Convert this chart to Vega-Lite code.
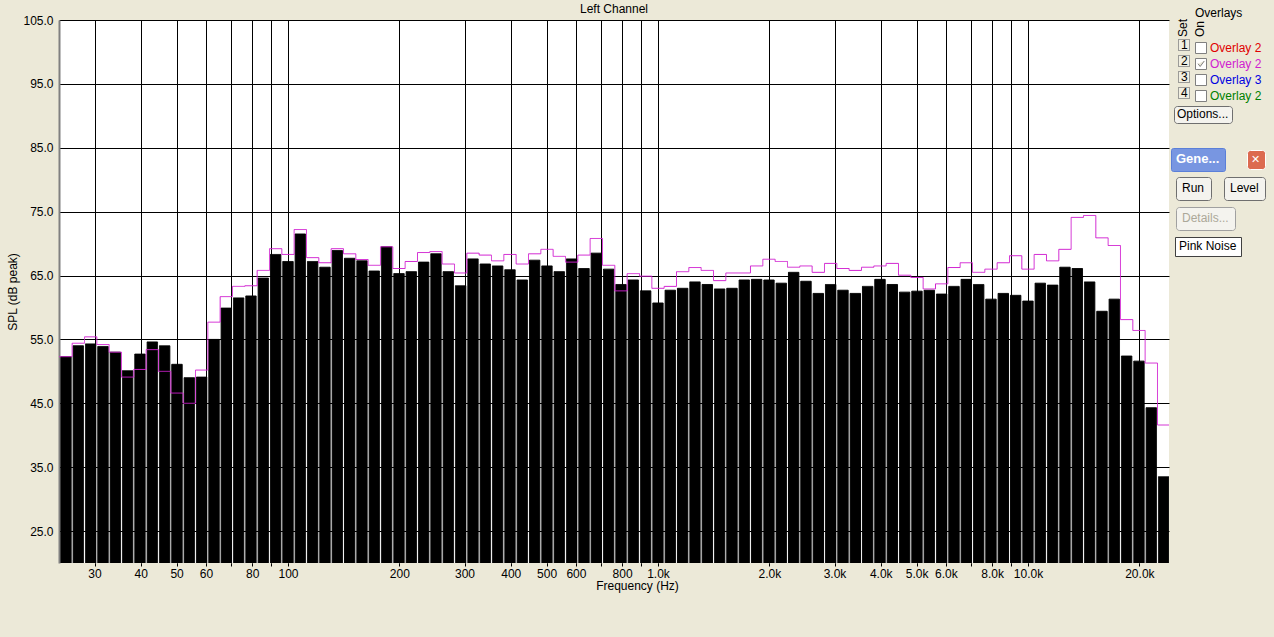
{
  "$schema": "https://vega.github.io/schema/vega-lite/v6.json",
  "width": 1110,
  "height": 543,
  "autosize": {"type": "none"},
  "padding": {"left": 59, "top": 20, "right": 105, "bottom": 74},
  "background": "#ece9d8",
  "title": {"text": "Left Channel", "fontSize": 12, "fontWeight": "normal", "font": "Liberation Sans", "color": "#000000", "offset": 3, "dy": 11, "anchor": "middle"},
  "config": {"view": {"fill": "white", "stroke": null}, "font": "Liberation Sans", "legend": {"labelFont": "Liberation Sans", "labelFontSize": 12, "labelColor": "#000000", "titleFont": "Liberation Sans", "titleFontSize": 12, "titleFontWeight": "normal", "titleColor": "#000000", "orient": "none"}},
  "datasets": {
    "bars": [
      {"freq": 25.12, "spl": 52.3}, {"freq": 27.12, "spl": 54.0}, {"freq": 29.29, "spl": 54.3}, {"freq": 31.62, "spl": 53.9},
      {"freq": 34.15, "spl": 53.0}, {"freq": 36.87, "spl": 50.1}, {"freq": 39.81, "spl": 52.7}, {"freq": 42.99, "spl": 54.6},
      {"freq": 46.42, "spl": 54.0}, {"freq": 50.12, "spl": 51.1}, {"freq": 54.12, "spl": 49.0}, {"freq": 58.43, "spl": 49.1},
      {"freq": 63.10, "spl": 55.0}, {"freq": 68.13, "spl": 59.9}, {"freq": 73.56, "spl": 61.5}, {"freq": 79.43, "spl": 61.8},
      {"freq": 85.77, "spl": 64.6}, {"freq": 92.61, "spl": 68.3}, {"freq": 100, "spl": 67.2}, {"freq": 107.98, "spl": 71.5},
      {"freq": 116.59, "spl": 67.2}, {"freq": 125.89, "spl": 66.3}, {"freq": 135.94, "spl": 68.9}, {"freq": 146.78, "spl": 67.7},
      {"freq": 158.49, "spl": 67.3}, {"freq": 171.13, "spl": 65.7}, {"freq": 184.78, "spl": 69.5}, {"freq": 199.53, "spl": 65.3},
      {"freq": 215.44, "spl": 65.6}, {"freq": 232.63, "spl": 67.1}, {"freq": 251.19, "spl": 68.4}, {"freq": 271.23, "spl": 65.6},
      {"freq": 292.86, "spl": 63.4}, {"freq": 316.23, "spl": 67.6}, {"freq": 341.45, "spl": 66.8}, {"freq": 368.69, "spl": 66.5},
      {"freq": 398.11, "spl": 65.9}, {"freq": 429.87, "spl": 64.3}, {"freq": 464.16, "spl": 67.4}, {"freq": 501.19, "spl": 66.5},
      {"freq": 541.17, "spl": 65.6}, {"freq": 584.34, "spl": 67.6}, {"freq": 630.96, "spl": 66.1}, {"freq": 681.29, "spl": 68.5},
      {"freq": 735.64, "spl": 66.0}, {"freq": 794.33, "spl": 63.6}, {"freq": 857.70, "spl": 64.3}, {"freq": 926.11, "spl": 62.6},
      {"freq": 1000, "spl": 60.7}, {"freq": 1079.8, "spl": 62.7}, {"freq": 1165.9, "spl": 63.0}, {"freq": 1258.9, "spl": 64.0},
      {"freq": 1359.4, "spl": 63.6}, {"freq": 1467.8, "spl": 62.9}, {"freq": 1584.9, "spl": 63.0}, {"freq": 1711.3, "spl": 64.3},
      {"freq": 1847.8, "spl": 64.4}, {"freq": 1995.3, "spl": 64.3}, {"freq": 2154.4, "spl": 63.8}, {"freq": 2326.3, "spl": 65.5},
      {"freq": 2511.9, "spl": 64.1}, {"freq": 2712.3, "spl": 62.2}, {"freq": 2928.6, "spl": 63.6}, {"freq": 3162.3, "spl": 62.7},
      {"freq": 3414.5, "spl": 62.2}, {"freq": 3686.9, "spl": 63.3}, {"freq": 3981.1, "spl": 64.4}, {"freq": 4298.7, "spl": 63.6},
      {"freq": 4641.6, "spl": 62.4}, {"freq": 5011.9, "spl": 62.55}, {"freq": 5411.7, "spl": 62.7}, {"freq": 5843.4, "spl": 62.1},
      {"freq": 6309.6, "spl": 63.3}, {"freq": 6812.9, "spl": 64.4}, {"freq": 7356.4, "spl": 63.6}, {"freq": 7943.3, "spl": 61.3},
      {"freq": 8577.0, "spl": 62.2}, {"freq": 9261.1, "spl": 61.9}, {"freq": 10000, "spl": 61.0}, {"freq": 10798, "spl": 63.8},
      {"freq": 11659, "spl": 63.5}, {"freq": 12589, "spl": 66.3}, {"freq": 13594, "spl": 66.1}, {"freq": 14678, "spl": 64.0},
      {"freq": 15849, "spl": 59.4}, {"freq": 17113, "spl": 61.3}, {"freq": 18478, "spl": 52.4}, {"freq": 19953, "spl": 51.6},
      {"freq": 21544, "spl": 44.3}, {"freq": 23263, "spl": 33.5}
    ],
    "overlay": [
      {"freq": 23.263, "spl": 52.3},
      {"freq": 25.12, "spl": 52.3}, {"freq": 27.12, "spl": 54.4}, {"freq": 29.29, "spl": 55.4}, {"freq": 31.62, "spl": 54.2},
      {"freq": 34.15, "spl": 53.0}, {"freq": 36.87, "spl": 49.1}, {"freq": 39.81, "spl": 50.3}, {"freq": 42.99, "spl": 53.4},
      {"freq": 46.42, "spl": 50.0}, {"freq": 50.12, "spl": 46.6}, {"freq": 54.12, "spl": 45.0}, {"freq": 58.43, "spl": 50.2},
      {"freq": 63.10, "spl": 57.7}, {"freq": 68.13, "spl": 61.7}, {"freq": 73.56, "spl": 63.3}, {"freq": 79.43, "spl": 63.4},
      {"freq": 85.77, "spl": 65.8}, {"freq": 92.61, "spl": 69.2}, {"freq": 100, "spl": 68.3}, {"freq": 107.98, "spl": 72.2},
      {"freq": 116.59, "spl": 67.8}, {"freq": 125.89, "spl": 67.0}, {"freq": 135.94, "spl": 69.2}, {"freq": 146.78, "spl": 68.4},
      {"freq": 158.49, "spl": 67.5}, {"freq": 171.13, "spl": 66.6}, {"freq": 184.78, "spl": 69.5}, {"freq": 199.53, "spl": 66.1},
      {"freq": 215.44, "spl": 67.2}, {"freq": 232.63, "spl": 68.6}, {"freq": 251.19, "spl": 68.75}, {"freq": 271.23, "spl": 66.8},
      {"freq": 292.86, "spl": 65.4}, {"freq": 316.23, "spl": 68.5}, {"freq": 341.45, "spl": 68.2}, {"freq": 368.69, "spl": 67.3},
      {"freq": 398.11, "spl": 68.3}, {"freq": 429.87, "spl": 66.8}, {"freq": 464.16, "spl": 68.4}, {"freq": 501.19, "spl": 69.1},
      {"freq": 541.17, "spl": 68.0}, {"freq": 584.34, "spl": 67.1}, {"freq": 630.96, "spl": 68.2}, {"freq": 681.29, "spl": 70.8},
      {"freq": 735.64, "spl": 66.6}, {"freq": 794.33, "spl": 62.6}, {"freq": 857.70, "spl": 65.3}, {"freq": 926.11, "spl": 64.9},
      {"freq": 1000, "spl": 63.0}, {"freq": 1079.8, "spl": 63.3}, {"freq": 1165.9, "spl": 65.6}, {"freq": 1258.9, "spl": 66.25},
      {"freq": 1359.4, "spl": 65.8}, {"freq": 1467.8, "spl": 64.2}, {"freq": 1584.9, "spl": 65.4}, {"freq": 1711.3, "spl": 65.4},
      {"freq": 1847.8, "spl": 66.5}, {"freq": 1995.3, "spl": 67.55}, {"freq": 2154.4, "spl": 67.2}, {"freq": 2326.3, "spl": 66.3},
      {"freq": 2511.9, "spl": 66.5}, {"freq": 2712.3, "spl": 65.5}, {"freq": 2928.6, "spl": 66.9}, {"freq": 3162.3, "spl": 66.1},
      {"freq": 3414.5, "spl": 65.8}, {"freq": 3686.9, "spl": 66.3}, {"freq": 3981.1, "spl": 66.5}, {"freq": 4298.7, "spl": 66.9},
      {"freq": 4641.6, "spl": 65.05}, {"freq": 5011.9, "spl": 64.7}, {"freq": 5411.7, "spl": 62.9}, {"freq": 5843.4, "spl": 63.7},
      {"freq": 6309.6, "spl": 66.25}, {"freq": 6812.9, "spl": 67.0}, {"freq": 7356.4, "spl": 65.5}, {"freq": 7943.3, "spl": 66.0},
      {"freq": 8577.0, "spl": 67.0}, {"freq": 9261.1, "spl": 68.1}, {"freq": 10000, "spl": 66.0}, {"freq": 10798, "spl": 68.3},
      {"freq": 11659, "spl": 67.3}, {"freq": 12589, "spl": 69.1}, {"freq": 13594, "spl": 74.1}, {"freq": 14678, "spl": 74.4},
      {"freq": 15849, "spl": 70.9}, {"freq": 17113, "spl": 69.7}, {"freq": 18478, "spl": 58.1}, {"freq": 19953, "spl": 56.4},
      {"freq": 21544, "spl": 51.3}, {"freq": 23263, "spl": 41.6},
      {"freq": 25119, "spl": 52.2}
    ]
  },
  "resolve": {
    "scale": {"opacity": "independent", "strokeWidth": "independent", "strokeDash": "independent"},
    "legend": {"opacity": "independent", "strokeWidth": "independent", "strokeDash": "independent"}
  },
  "layer": [
    {
      "data": {"name": "bars"},
      "mark": {"type": "bar", "size": 10.4, "clip": true, "strokeWidth": 0},
      "encoding": {
        "x": {
          "field": "freq", "type": "quantitative",
          "scale": {"type": "log", "domain": [24.05, 24050], "nice": false, "padding": 0},
          "axis": {
            "values": [30, 40, 50, 60, 70, 80, 90, 100, 200, 300, 400, 500, 600, 700, 800, 900, 1000, 2000, 3000, 4000, 5000, 6000, 7000, 8000, 9000, 10000, 20000],
            "labelExpr": "indexof([70, 90, 700, 900, 7000, 9000], datum.value) >= 0 ? '' : (datum.value >= 1000 ? format(datum.value / 1000, '.1f') + 'k' : format(datum.value, 'd'))",
            "grid": true, "gridColor": "#000000", "gridOpacity": 1, "gridWidth": 1,
            "domain": false, "ticks": true, "tickColor": "#000000", "tickSize": 3,
            "labelFont": "Liberation Sans", "labelFontSize": 12, "labelColor": "#000000", "labelPadding": 2,
            "labelFlush": false, "labelOverlap": false, "labelBound": false,
            "title": "Frequency (Hz)", "titleFont": "Liberation Sans", "titleFontSize": 12, "titleFontWeight": "normal",
            "titleColor": "#000000", "titlePadding": 1, "titleX": 578
          }
        },
        "y": {
          "field": "spl", "type": "quantitative",
          "scale": {"domain": [20, 105], "nice": false, "zero": false},
          "axis": {
            "values": [25, 35, 45, 55, 65, 75, 85, 95, 105],
            "format": ".1f",
            "grid": true, "gridColor": "#000000", "gridOpacity": 1, "gridWidth": 1,
            "domain": true, "domainColor": "#808080", "domainWidth": 2,
            "ticks": false, "tickSize": 0,
            "labelFont": "Liberation Sans", "labelFontSize": 12, "labelColor": "#000000", "labelPadding": 6,
            "labelFlush": false, "labelOverlap": false, "labelBound": false,
            "title": "SPL (dB peak)", "titleFont": "Liberation Sans", "titleFontSize": 12, "titleFontWeight": "normal",
            "titleColor": "#000000", "titlePadding": 3
          }
        },
        "fill": {
          "datum": "close", "type": "nominal",
          "scale": {"domain": ["close"], "range": ["#000000"]},
          "legend": {
            "orient": "none", "legendX": 1188, "legendY": 130, "values": [],
            "title": "✕", "titleFont": "DejaVu Sans", "titleFontSize": 11, "titleColor": "#ffffff", "titleFontWeight": "bold",
            "padding": 4, "fillColor": "#dc6a50", "strokeColor": "#ffffff", "cornerRadius": 3,
            "symbolOpacity": 0, "labelExpr": "''"
          }
        },
        "size": {
          "datum": 1, "type": "quantitative",
          "scale": {"domain": [0, 1], "range": [10.4, 10.4]},
          "legend": {
            "orient": "none", "legendX": 1117, "legendY": 157, "values": [],
            "title": "Run", "padding": 6, "fillColor": "#f4f3ee", "strokeColor": "#6f6f6f", "cornerRadius": 3,
            "symbolOpacity": 0, "labelExpr": "''"
          }
        },
        "stroke": {
          "datum": "Level", "type": "nominal",
          "scale": {"domain": ["Level"], "range": ["#000000"]},
          "legend": {
            "orient": "none", "legendX": 1165, "legendY": 157, "values": [],
            "title": "Level", "padding": 6, "fillColor": "#f4f3ee", "strokeColor": "#6f6f6f", "cornerRadius": 3,
            "symbolOpacity": 0, "labelExpr": "''"
          }
        },
        "opacity": {
          "datum": "Details...", "type": "ordinal",
          "scale": {"domain": ["Details..."], "range": [1]},
          "legend": {
            "orient": "none", "legendX": 1117, "legendY": 187, "values": [],
            "title": "Details...", "titleColor": "#aca899", "padding": 6, "fillColor": "#f4f3ee", "strokeColor": "#a0a0a0", "cornerRadius": 3,
            "symbolOpacity": 0, "labelExpr": "''"
          }
        },
        "strokeWidth": {
          "datum": "Pink Noise", "type": "ordinal",
          "scale": {"domain": ["Pink Noise"], "range": [0]},
          "legend": {
            "orient": "none", "legendX": 1116, "legendY": 217, "values": [],
            "title": "Pink Noise", "padding": 4, "fillColor": "#ffffff", "strokeColor": "#404040",
            "symbolOpacity": 0, "labelExpr": "''"
          }
        },
        "strokeDash": {
          "datum": "Gene...", "type": "nominal",
          "scale": {"domain": ["Gene..."], "range": [[1, 0]]},
          "legend": {
            "orient": "none", "legendX": 1112, "legendY": 128, "values": [],
            "title": "Gene...", "titleFontSize": 13, "titleFontWeight": "bold", "titleColor": "#ffffff",
            "padding": 5, "fillColor": "#7896e1", "strokeColor": "#5b7fd8", "cornerRadius": 2,
            "symbolOpacity": 0, "labelExpr": "''"
          }
        }
      }
    },
    {
      "data": {"name": "overlay"},
      "mark": {"type": "line", "interpolate": "step", "clip": true},
      "encoding": {
        "x": {"field": "freq", "type": "quantitative"},
        "y": {"field": "spl", "type": "quantitative"},
        "color": {
          "datum": "On", "type": "nominal",
          "scale": {"domain": ["On"], "range": ["#d020d0"]},
          "legend": {
            "orient": "none", "legendX": 1135, "legendY": 17, "values": [],
            "title": "On", "symbolOpacity": 0, "labelExpr": "''",
            "encode": {"title": {"update": {"angle": {"value": -90}}, "angle": {"value": -90}}}
          }
        },
        "opacity": {
          "datum": "o2", "type": "ordinal",
          "scale": {"domain": ["o1", "o2", "o3", "o4"], "range": [1, 1, 1, 1]},
          "legend": {
            "orient": "none", "legendX": 1136, "legendY": -12,
            "title": "Overlays", "titlePadding": 22,
            "symbolType": "square", "symbolSize": 121, "symbolFillColor": "#ffffff", "symbolStrokeColor": "#808080", "symbolStrokeWidth": 1,
            "labelOffset": 3, "rowPadding": 0,
            "labelExpr": "datum.value == 'o3' ? 'Overlay 3' : 'Overlay 2'",
            "encode": {
              "labels": {"update": {"fill": {"signal": "datum.value == 'o1' ? '#e00000' : datum.value == 'o2' ? '#d020d0' : datum.value == 'o3' ? '#0000e0' : '#008000'"}}},
              "symbols": {"update": {"shape": {"signal": "datum.value == 'o2' ? 'M-1,-1H1V1H-1Z M-0.55,-0.05L-0.15,0.45L0.6,-0.55' : 'square'"}}}
            }
          }
        },
        "strokeDash": {
          "datum": "2", "type": "nominal",
          "scale": {"domain": ["1", "2", "3", "4"], "range": [[1, 0], [1, 0], [1, 0], [1, 0]]},
          "legend": {
            "orient": "none", "legendX": 1118, "legendY": 17,
            "title": "Set", "titlePadding": -16,
            "symbolType": "square", "symbolSize": 121, "symbolFillColor": "#f1efe2", "symbolStrokeColor": "#808080", "symbolStrokeWidth": 1,
            "labelOffset": -9, "rowPadding": 0,
            "encode": {"title": {"update": {"angle": {"value": -90}}, "angle": {"value": -90}}}
          }
        },
        "strokeWidth": {
          "datum": "Options...", "type": "ordinal",
          "scale": {"domain": ["Options..."], "range": [1.2]},
          "legend": {
            "orient": "none", "legendX": 1115, "legendY": 86, "values": [],
            "title": "Options...", "padding": 3, "fillColor": "#f4f3ee", "strokeColor": "#6f6f6f", "cornerRadius": 3,
            "symbolOpacity": 0, "labelExpr": "''"
          }
        }
      }
    }
  ]
}
